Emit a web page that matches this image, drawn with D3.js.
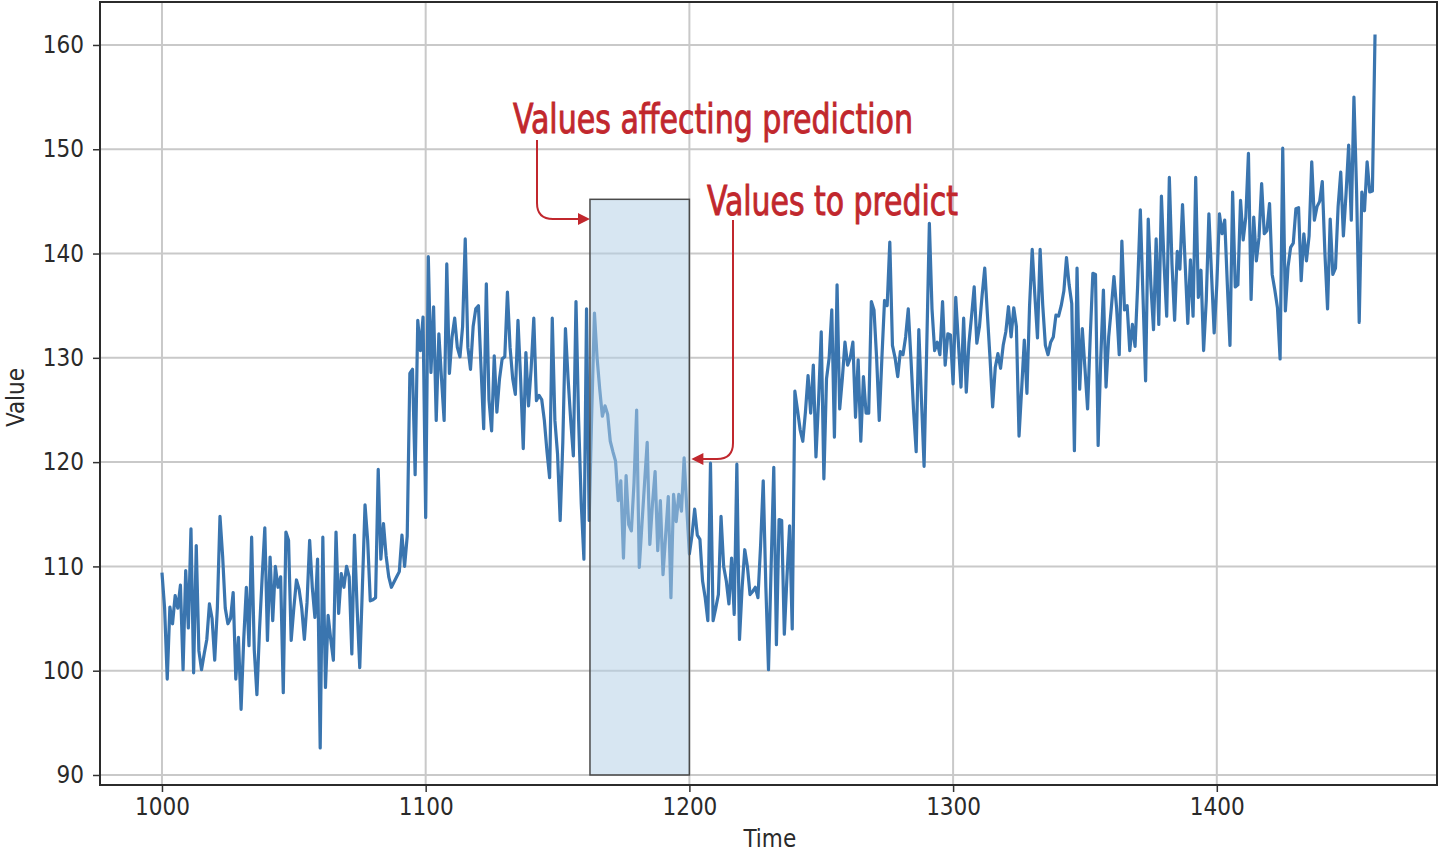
<!DOCTYPE html>
<html>
<head>
<meta charset=utf-8 />
<title>Values affecting prediction</title>
<style type="text/css">
body { margin: 0; background: #fff; }
.tick text { font-family: "DejaVu Sans Condensed", "DejaVu Sans", sans-serif; }
</style>
<script src="https://d3js.org/d3.v7.min.js"></script>
</head>
<body>
<div id="chart-container"></div>
<script>

// time steps 1000..1460
var startTime = 1000;
var values = [
 109.4, 106.0, 99.2, 106.1, 104.5, 107.2, 106.0, 108.2, 100.1, 109.6,
 104.1, 113.6, 99.8, 112.0, 101.9, 100.1, 101.6, 103.0, 106.4, 105.0,
 101.0, 106.0, 114.8, 111.0, 106.0, 104.5, 105.0, 107.5, 99.2, 103.2,
 96.3, 103.0, 108.0, 102.4, 112.8, 102.0, 97.7, 104.0, 109.0, 113.7,
 102.9, 110.9, 104.8, 110.0, 108.0, 109.0, 97.9, 113.3, 112.5, 102.9,
 106.0, 108.7, 107.8, 106.0, 103.0, 106.5, 112.5, 108.0, 105.1, 110.7,
 92.6, 112.8, 98.4, 105.3, 103.0, 101.0, 113.3, 105.5, 109.3, 108.0,
 110.0, 109.0, 101.6, 113.0, 106.0, 100.3, 108.0, 115.9, 112.5, 106.7,
 106.8, 107.0, 119.3, 110.7, 114.1, 111.0, 109.0, 108.0, 108.5, 109.0,
 109.5, 113.0, 110.0, 112.9, 128.5, 128.9, 118.8, 133.6, 130.7, 133.9,
 114.7, 139.7, 128.6, 134.9, 124.0, 132.3, 128.0, 124.0, 139.0, 128.5,
 132.0, 133.8, 131.0, 130.1, 133.0, 141.4, 131.0, 128.9, 133.0, 134.7,
 135.0, 129.0, 123.2, 137.1, 126.0, 123.0, 130.2, 124.8, 128.0, 129.9,
 130.1, 136.3, 131.0, 128.0, 126.5, 133.6, 128.0, 121.3, 130.5, 125.4,
 129.0, 133.8, 125.9, 126.4, 126.0, 124.0, 121.0, 118.5, 133.8, 124.0,
 120.8, 114.4, 121.9, 132.8, 128.0, 124.0, 120.6, 135.4, 124.0, 116.0,
 110.7, 134.7, 114.4, 125.0, 134.3, 130.0, 127.0, 124.4, 125.4, 124.6,
 122.0, 121.0, 120.1, 116.3, 118.2, 110.8, 118.7, 114.0, 113.4, 118.0,
 125.0, 109.9, 114.0, 118.0, 121.9, 112.1, 116.0, 119.1, 111.5, 116.3,
 109.2, 113.0, 116.7, 107.0, 116.9, 114.3, 116.9, 115.3, 120.4, 115.6,
 111.2, 113.0, 115.5, 113.0, 112.6, 108.6, 107.0, 104.8, 119.9, 104.8,
 106.0, 107.3, 114.8, 110.0, 108.6, 106.4, 110.8, 105.4, 119.8, 103.0,
 108.0, 111.6, 110.0, 107.3, 107.6, 108.0, 107.0, 112.0, 118.2, 108.0,
 100.1, 110.0, 119.5, 102.5, 114.5, 114.4, 103.5, 109.0, 113.9, 104.0,
 126.8, 125.0, 123.1, 122.0, 124.8, 128.3, 124.7, 129.3, 120.5, 126.0,
 132.5, 118.4, 128.0, 130.0, 134.6, 122.4, 137.0, 125.1, 128.0, 131.5,
 129.3, 130.0, 131.5, 124.3, 129.8, 122.0, 128.2, 124.7, 124.7, 135.4,
 134.6, 130.0, 124.0, 130.0, 135.5, 135.0, 141.1, 131.2, 130.0, 128.2,
 130.6, 130.3, 132.0, 134.7, 130.0, 125.0, 121.0, 132.7, 126.0, 119.6,
 131.0, 142.9, 134.7, 130.7, 131.5, 130.3, 135.4, 129.3, 132.3, 132.2,
 127.5, 135.8, 131.5, 127.2, 133.8, 126.7, 131.4, 134.0, 136.8, 131.4,
 133.0, 136.0, 138.6, 134.2, 130.0, 125.3, 129.1, 130.4, 129.0, 131.2,
 132.5, 134.9, 132.0, 134.8, 133.0, 122.5, 127.0, 131.7, 126.6, 135.0,
 140.4, 136.0, 131.9, 140.4, 135.0, 131.2, 130.3, 131.5, 132.0, 134.1,
 134.0, 135.0, 136.4, 139.6, 137.0, 135.2, 121.1, 138.6, 127.0, 132.8,
 129.0, 125.1, 132.0, 138.1, 138.0, 121.6, 130.0, 136.5, 127.2, 132.0,
 134.8, 137.8, 134.8, 130.3, 141.2, 134.6, 135.0, 130.7, 133.2, 131.1,
 137.0, 144.2, 136.0, 127.8, 143.3, 137.0, 132.7, 141.4, 133.2, 145.5,
 139.0, 134.0, 147.3, 139.0, 133.6, 140.2, 138.5, 144.7, 139.0, 133.3,
 139.4, 134.0, 147.3, 135.8, 138.4, 130.7, 135.5, 143.8, 138.0, 132.4,
 137.0, 143.8, 141.9, 143.2, 137.0, 131.2, 145.9, 136.8, 137.0, 145.1,
 141.3, 143.5, 149.6, 135.6, 143.5, 139.3, 141.5, 146.7, 141.9, 142.2,
 144.8, 138.0, 136.5, 134.8, 129.9, 150.1, 134.5, 138.7, 140.6, 141.0,
 144.3, 144.4, 137.4, 141.9, 139.3, 141.7, 148.8, 143.2, 144.5, 145.0,
 146.9, 140.0, 134.7, 143.3, 138.0, 138.6, 144.5, 147.8, 141.7, 145.7,
 150.4, 143.2, 155.0, 146.1, 133.4, 145.9, 144.1, 148.8, 145.9, 146.0,
 161.0
];

var xTicks = [1000, 1100, 1200, 1300, 1400];
var yTicks = [90, 100, 110, 120, 130, 140, 150, 160];

// the highlighted input window and the point after it
var windowStart = 1162.3;
var windowEnd = 1200;
var windowTop = 145.2;
var windowBottom = 90;

var labels = ["Values affecting prediction", "Values to predict"];

var data = values.map(function(v, i) { return {t: startTime + i, v: v}; });

var W = 1440, H = 853;
var margin = {top: 2, right: 3, bottom: 68, left: 100},
    width = W - margin.left - margin.right,
    height = H - margin.top - margin.bottom;

var svg = d3.select("#chart-container")
  .append("svg")
    .attr("width", W)
    .attr("height", H)
  .append("g")
    .attr("transform", "translate(" + margin.left + "," + margin.top + ")");

var x = d3.scaleLinear()
    .domain([976.5, 1483.5])
    .range([0, width]);

var y = d3.scaleLinear()
    .domain([89.04, 164.12])
    .range([height, 0]);

// grid
svg.append("g")
    .selectAll("line")
    .data(xTicks)
    .enter().append("line")
    .attr("x1", d => x(d)).attr("x2", d => x(d))
    .attr("y1", 0).attr("y2", height)
    .attr("stroke", "#c9c9c9")
    .attr("stroke-width", 2);

svg.append("g")
    .selectAll("line")
    .data(yTicks)
    .enter().append("line")
    .attr("x1", 0).attr("x2", width)
    .attr("y1", d => y(d)).attr("y2", d => y(d))
    .attr("stroke", "#c9c9c9")
    .attr("stroke-width", 2);

// the series
var line = d3.line()
    .x(d => x(d.t))
    .y(d => y(d.v));

svg.append("path")
    .datum(data)
    .attr("d", line)
    .attr("fill", "none")
    .attr("stroke", "#3a75af")
    .attr("stroke-width", 3.2)
    .attr("stroke-linejoin", "round");

// window rectangle, drawn over the line so it washes it out
svg.append("rect")
    .attr("x", x(windowStart))
    .attr("y", y(windowTop))
    .attr("width", x(windowEnd) - x(windowStart))
    .attr("height", y(windowBottom) - y(windowTop))
    .attr("fill", "rgb(178,207,230)")
    .attr("fill-opacity", 0.52)
    .attr("stroke", "#4a4a4a")
    .attr("stroke-width", 1.5);

// axes
var xAxis = svg.append("g")
    .attr("transform", "translate(0," + height + ")")
    .call(d3.axisBottom(x).tickValues(xTicks).tickFormat(d3.format("d")).tickSize(7).tickPadding(6));

var yAxis = svg.append("g")
    .call(d3.axisLeft(y).tickValues(yTicks).tickSize(7).tickPadding(9));

[xAxis, yAxis].forEach(function(a) {
  a.select(".domain").remove();
  a.selectAll(".tick line").attr("stroke", "#333").attr("stroke-width", 1.5);
  a.selectAll(".tick text")
    .attr("fill", "#2a2a2a")
    .style("font-size", "24px");
});

// frame
svg.append("rect")
    .attr("x", 0).attr("y", 0)
    .attr("width", width).attr("height", height)
    .attr("fill", "none")
    .attr("stroke", "#2b2b2b")
    .attr("stroke-width", 2);

// axis titles
svg.append("text")
    .attr("x", x(1230.5))
    .attr("y", height + 62)
    .attr("text-anchor", "middle")
    .attr("font-family", "'DejaVu Sans Condensed', 'DejaVu Sans', sans-serif")
    .attr("font-size", 24)
    .attr("fill", "#2a2a2a")
    .text("Time");

svg.append("text")
    .attr("transform", "translate(" + (-76) + "," + y(126.2) + ") rotate(-90)")
    .attr("text-anchor", "middle")
    .attr("font-family", "'DejaVu Sans Condensed', 'DejaVu Sans', sans-serif")
    .attr("font-size", 24)
    .attr("fill", "#2a2a2a")
    .text("Value");

// annotations (narrow face, thin outline for a medium weight)
var red = "#c1272d";
var ann = svg.append("g")
    .attr("fill", red)
    .attr("stroke", red)
    .attr("stroke-width", 0.9)
    .attr("font-family", "'Liberation Sans Narrow', 'DejaVu Sans Condensed', sans-serif")
    .attr("font-size", 41);

ann.append("text")
    .attr("x", 413).attr("y", 131)
    .attr("textLength", 400)
    .attr("lengthAdjust", "spacingAndGlyphs")
    .text(labels[0]);

ann.append("text")
    .attr("x", 607).attr("y", 213)
    .attr("textLength", 251)
    .attr("lengthAdjust", "spacingAndGlyphs")
    .text(labels[1]);

// arrow into the left edge of the window
var tip1 = [x(windowStart), 217];
svg.append("path")
    .attr("d", "M437,138 V" + (tip1[1] - 16) + " Q437," + tip1[1] + " 453," + tip1[1] + " H" + (tip1[0] - 9))
    .attr("fill", "none").attr("stroke", red).attr("stroke-width", 2);
svg.append("path")
    .attr("d", "M" + tip1[0] + "," + tip1[1] + " l-12,-6 v12 z")
    .attr("fill", red);

// arrow to the value after the window
var tip2 = [x(windowEnd) + 2, y(120.3)];
svg.append("path")
    .attr("d", "M633,218 V" + (tip2[1] - 16) + " Q633," + tip2[1] + " 617," + tip2[1] + " H" + (tip2[0] + 9))
    .attr("fill", "none").attr("stroke", red).attr("stroke-width", 2);
svg.append("path")
    .attr("d", "M" + tip2[0] + "," + tip2[1] + " l12,-6 v12 z")
    .attr("fill", red);

</script>
</body>
</html>
